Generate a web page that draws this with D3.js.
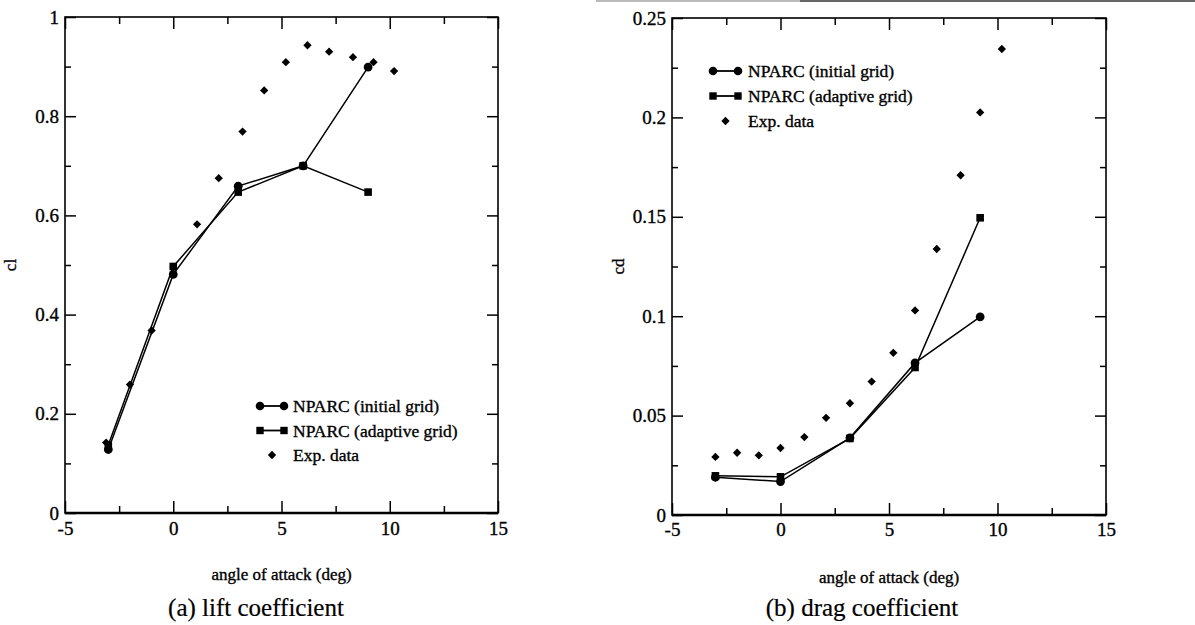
<!DOCTYPE html>
<html>
<head>
<meta charset="utf-8">
<script src="https://cdn.jsdelivr.net/npm/d3@7"></script>
<style>
  html, body { margin: 0; padding: 0; background: #fff; }
  svg { display: block; font-family: "Liberation Serif", "Times New Roman", serif; }
  text { fill: #000; stroke: #000; stroke-width: 0.35px; }
</style>
</head>
<body>
<svg id="chart" width="1195" height="625"></svg>
<script>
// ---- Lift coefficient (cl) ----
const liftExpAlpha = [-3.1, -2, -1, 1.1, 2.1, 3.2, 4.2, 5.2, 6.2, 7.2, 8.3, 9.25, 10.2];
const liftExpCl    = [0.142, 0.259, 0.368, 0.582, 0.675, 0.769, 0.852, 0.909, 0.943, 0.930, 0.919, 0.909, 0.891];
const liftModelAlpha = [-3, 0, 3, 6, 9];
const liftInitialCl  = [0.128, 0.481, 0.659, 0.700, 0.899];
const liftAdaptiveCl = [0.137, 0.497, 0.647, 0.700, 0.647];

// ---- Drag coefficient (cd) ----
const dragExpAlpha = [-3, -2, -1, 0, 1.1, 2.1, 3.2, 4.2, 5.2, 6.2, 7.2, 8.3, 9.2, 10.2];
const dragExpCd    = [0.0292, 0.0313, 0.0300, 0.0337, 0.0392, 0.0489, 0.0562, 0.0671, 0.0816, 0.1029, 0.1338, 0.1709, 0.2025, 0.2344];
const dragModelAlpha = [-3, 0, 3.2, 6.2, 9.2];
const dragInitialCd  = [0.0190, 0.0168, 0.0388, 0.0765, 0.0997];
const dragAdaptiveCd = [0.0197, 0.0192, 0.0385, 0.0742, 0.1495];

// ---- Axis ticks and labels ----
const xMajorTicks = [-5, 0, 5, 10, 15];
const xMinorTicks = [-2.5, 2.5, 7.5, 12.5];
const liftMajorTicks = [0, 0.2, 0.4, 0.6, 0.8, 1];
const liftMinorTicks = [0.1, 0.3, 0.5, 0.7, 0.9];
const dragMajorTicks = [0, 0.05, 0.1, 0.15, 0.2, 0.25];
const dragMinorTicks = [0.025, 0.075, 0.125, 0.175, 0.225];
const legendLabels = ["NPARC (initial grid)", "NPARC (adaptive grid)", "Exp. data"];
const xTitle = "angle of attack (deg)";

const svg = d3.select("#chart");

// faint rule along the top edge
svg.append("line").attr("x1", 596).attr("x2", 800).attr("y1", 1).attr("y2", 1)
  .attr("stroke", "#bbb").attr("stroke-width", 2);
svg.append("line").attr("x1", 800).attr("x2", 1195).attr("y1", 1).attr("y2", 1)
  .attr("stroke", "#666").attr("stroke-width", 2);

const diamond = d3.symbol().type(d3.symbolDiamond2).size(44);
// plain hyphen for negatives, trimmed decimals
const fmt = d => String(+d.toFixed(3));

function drawPanel(cfg) {
  const x = d3.scaleLinear().domain([-5, 15]).range([cfg.left, cfg.right]);
  const y = d3.scaleLinear().domain(cfg.yDomain).range([cfg.bottom, cfg.top]);
  const g = svg.append("g");
  const H = cfg.bottom - cfg.top, Wd = cfg.right - cfg.left;

  function styleAxis(sel) {
    sel.select(".domain").remove();
    sel.selectAll(".tick line").attr("stroke", "#000").attr("stroke-width", 1.5);
    sel.selectAll(".tick text").style("font-size", "19px")
      .style("font-family", "'Liberation Serif', serif");
  }

  // bottom axis (labels) + inward ticks
  g.append("g").attr("transform", `translate(0,${cfg.bottom})`)
    .call(d3.axisBottom(x).tickValues(xMajorTicks).tickSize(-12).tickPadding(cfg.xPad).tickFormat(fmt))
    .call(styleAxis);
  g.append("g").attr("transform", `translate(0,${cfg.bottom})`)
    .call(d3.axisBottom(x).tickValues(xMinorTicks).tickSize(-7).tickFormat(""))
    .call(styleAxis);
  // top mirrored ticks
  g.append("g").attr("transform", `translate(0,${cfg.top})`)
    .call(d3.axisTop(x).tickValues(xMajorTicks).tickSize(-12).tickFormat(""))
    .call(styleAxis);
  g.append("g").attr("transform", `translate(0,${cfg.top})`)
    .call(d3.axisTop(x).tickValues(xMinorTicks).tickSize(-7).tickFormat(""))
    .call(styleAxis);
  // left axis (labels)
  g.append("g").attr("transform", `translate(${cfg.left},0)`)
    .call(d3.axisLeft(y).tickValues(cfg.yMajor).tickSize(-11).tickPadding(6).tickFormat(fmt))
    .call(styleAxis);
  g.append("g").attr("transform", `translate(${cfg.left},0)`)
    .call(d3.axisLeft(y).tickValues(cfg.yMinor).tickSize(-6).tickFormat(""))
    .call(styleAxis);
  // right mirrored ticks
  g.append("g").attr("transform", `translate(${cfg.right},0)`)
    .call(d3.axisRight(y).tickValues(cfg.yMajor).tickSize(-11).tickFormat(""))
    .call(styleAxis);
  g.append("g").attr("transform", `translate(${cfg.right},0)`)
    .call(d3.axisRight(y).tickValues(cfg.yMinor).tickSize(-6).tickFormat(""))
    .call(styleAxis);

  // frame
  g.append("rect").attr("x", cfg.left).attr("y", cfg.top).attr("width", Wd).attr("height", H)
    .attr("fill", "none").attr("stroke", "#000").attr("stroke-width", 1.6);
  g.append("line").attr("x1", cfg.left).attr("x2", cfg.right).attr("y1", cfg.bottom).attr("y2", cfg.bottom)
    .attr("stroke", "#000").attr("stroke-width", 2.4);

  const line = d3.line().x(d => x(d[0])).y(d => y(d[1]));
  const initPts = cfg.modelAlpha.map((a, i) => [a, cfg.initial[i]]);
  const adaptPts = cfg.modelAlpha.map((a, i) => [a, cfg.adaptive[i]]);
  const expPts = cfg.expAlpha.map((a, i) => [a, cfg.exp[i]]);

  g.append("path").attr("d", line(initPts)).attr("fill", "none").attr("stroke", "#000").attr("stroke-width", 1.5);
  g.append("path").attr("d", line(adaptPts)).attr("fill", "none").attr("stroke", "#000").attr("stroke-width", 1.5);

  g.selectAll(".sq").data(adaptPts).join("rect").attr("class", "sq")
    .attr("x", d => x(d[0]) - 3.8).attr("y", d => y(d[1]) - 3.8).attr("width", 7.6).attr("height", 7.6).attr("fill", "#000");
  g.selectAll(".ci").data(initPts).join("circle").attr("class", "ci")
    .attr("cx", d => x(d[0])).attr("cy", d => y(d[1])).attr("r", 4.4).attr("fill", "#000");
  g.selectAll(".di").data(expPts).join("path").attr("class", "di")
    .attr("transform", d => `translate(${x(d[0])},${y(d[1])})`).attr("d", diamond).attr("fill", "#000");

  // axis titles
  g.append("text").attr("x", (cfg.left + cfg.right) / 2).attr("y", cfg.xTitleY).attr("text-anchor", "middle")
    .style("font-size", "17px").text(xTitle);
  g.append("text").attr("transform", `translate(${cfg.yTitleX},${(cfg.top + cfg.bottom) / 2}) rotate(-90)`)
    .attr("text-anchor", "middle").style("font-size", "17px").text(cfg.yTitle);
  g.append("text").attr("x", cfg.captionX).attr("y", 616).attr("text-anchor", "middle")
    .style("font-size", "25px").style("stroke-width", "0.2px").text(cfg.caption);

  // legend
  const L = cfg.legend;
  legendLabels.forEach((lab, i) => {
    const ry = L.y + i * L.dy;
    if (i < 2) {
      g.append("line").attr("x1", L.x1).attr("x2", L.x2).attr("y1", ry).attr("y2", ry)
        .attr("stroke", "#000").attr("stroke-width", 1.8);
      [L.x1, L.x2].forEach(mx => {
        if (i === 0) g.append("circle").attr("cx", mx).attr("cy", ry).attr("r", 4.3).attr("fill", "#000");
        else g.append("rect").attr("x", mx - 3.7).attr("y", ry - 3.7).attr("width", 7.4).attr("height", 7.4).attr("fill", "#000");
      });
    } else {
      g.append("path").attr("transform", `translate(${(L.x1 + L.x2) / 2},${ry})`).attr("d", diamond).attr("fill", "#000");
    }
    g.append("text").attr("x", L.tx).attr("y", ry).attr("dy", "0.35em").style("font-size", "17.5px").text(lab);
  });
}

drawPanel({
  left: 65, right: 498, top: 17, bottom: 513, yDomain: [0, 1],
  yMajor: liftMajorTicks, yMinor: liftMinorTicks, xPad: 9,
  expAlpha: liftExpAlpha, exp: liftExpCl,
  modelAlpha: liftModelAlpha, initial: liftInitialCl, adaptive: liftAdaptiveCl,
  yTitle: "cl", yTitleX: 16, xTitleY: 580, caption: "(a) lift coefficient", captionX: 256,
  legend: { x1: 260, x2: 284, tx: 293, y: 406, dy: 24.5 }
});

drawPanel({
  left: 672, right: 1106, top: 18, bottom: 515, yDomain: [0, 0.25],
  yMajor: dragMajorTicks, yMinor: dragMinorTicks, xPad: 8,
  expAlpha: dragExpAlpha, exp: dragExpCd,
  modelAlpha: dragModelAlpha, initial: dragInitialCd, adaptive: dragAdaptiveCd,
  yTitle: "cd", yTitleX: 624, xTitleY: 583, caption: "(b) drag coefficient", captionX: 862,
  legend: { x1: 713, x2: 738, tx: 748, y: 71, dy: 25 }
});
</script>
</body>
</html>
